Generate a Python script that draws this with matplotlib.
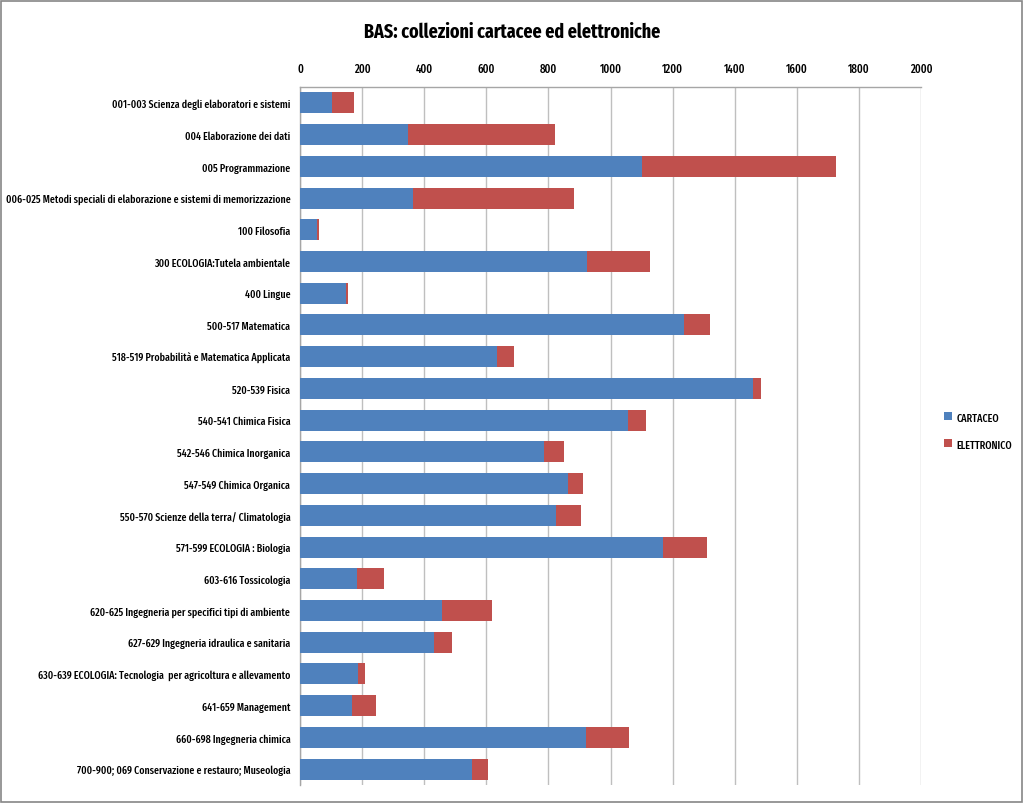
import matplotlib

matplotlib.use("Agg")

import matplotlib.pyplot as plt
import numpy as np
from matplotlib import font_manager
from matplotlib.patches import Rectangle

# the reference uses a squeezed Calibri; take the closest condensed family installed
names = {f.name for f in font_manager.fontManager.ttflist}
candidates = ["Fira Sans Extra Condensed", "Barlow Condensed", "Roboto Condensed", "PT Sans Narrow",
              "Open Sans Condensed", "Archivo Narrow", "Liberation Sans Narrow", "Carlito", "Open Sans"]
FAMILY = next((c for c in candidates if c in names), "DejaVu Sans")
plt.rcParams["font.family"] = [FAMILY, "DejaVu Sans"]
plt.rcParams["font.weight"] = "medium"

categories = [
    "001-003 Scienza degli elaboratori e sistemi",
    "004 Elaborazione dei dati",
    "005 Programmazione",
    "006-025 Metodi speciali di elaborazione e sistemi di memorizzazione",
    "100 Filosofia",
    "300 ECOLOGIA:Tutela ambientale",
    "400 Lingue",
    "500-517 Matematica",
    "518-519 Probabilità e Matematica Applicata",
    "520-539 Fisica",
    "540-541 Chimica Fisica",
    "542-546 Chimica Inorganica",
    "547-549 Chimica Organica",
    "550-570 Scienze della terra/ Climatologia",
    "571-599 ECOLOGIA : Biologia",
    "603-616 Tossicologia",
    "620-625 Ingegneria per specifici tipi di ambiente",
    "627-629 Ingegneria idraulica e sanitaria",
    "630-639 ECOLOGIA: Tecnologia  per agricoltura e allevamento",
    "641-659 Management",
    "660-698 Ingegneria chimica",
    "700-900; 069 Conservazione e restauro; Museologia",
]
cartaceo = [103, 348, 1102, 365, 54, 924, 149, 1238, 634, 1458, 1055, 786,
            863, 825, 1168, 183, 458, 431, 187, 167, 922, 553]
elettronico = [71, 472, 623, 516, 6, 203, 4, 81, 54, 26, 59, 63,
               47, 79, 143, 88, 159, 57, 21, 79, 136, 51]
x_ticks = [0, 200, 400, 600, 800, 1000, 1200, 1400, 1600, 1800, 2000]

BLUE = "#4F81BD"
RED = "#C0504D"
GRID = "#BFBFBF"

fig = plt.figure(figsize=(10.24, 8.04), dpi=100)
ax = fig.add_axes([300 / 1024, 1 - 786 / 804, 621 / 1024, 698 / 804])

y = np.arange(len(categories))
ax.barh(y, cartaceo, height=0.66, color=BLUE, label="CARTACEO", zorder=3)
ax.barh(y, elettronico, left=cartaceo, height=0.66, color=RED, label="ELETTRONICO", zorder=3)

ax.set_xlim(0, 2000)
ax.set_ylim(len(categories) - 0.5, -0.5)
ax.set_xticks(x_ticks)
ax.xaxis.tick_top()
ax.tick_params(axis="x", length=0, pad=9, labelsize=9)
ax.set_yticks(y, labels=categories)
ax.tick_params(axis="y", length=0, pad=7, labelsize=9)
ax.grid(axis="x", color=GRID, lw=1.0, zorder=0)

for side in ["right", "bottom"]:
    ax.spines[side].set_visible(False)
for side in ["top", "left"]:
    ax.spines[side].set_color("#A6A6A6")
    ax.spines[side].set_linewidth(1.0)

title = fig.text(0.5, 1 - 32 / 804, "BAS: collezioni cartacee ed elettroniche",
                 ha="center", va="center", fontsize=16, fontweight="bold")

leg = fig.legend(loc="center left", bbox_to_anchor=(933 / 1024, 1 - 432 / 804), frameon=False,
                 fontsize=9, handlelength=0.6, handleheight=0.6, handletextpad=0.4, labelspacing=1.3)

# size the texts so their widths match the reference picture
fig.canvas.draw()
r = fig.canvas.get_renderer()


def scale_for(text, target_px):
    return text.get_fontsize() * target_px / text.get_window_extent(r).width


ylab = ax.get_yticklabels()[3]
ax.tick_params(axis="y", labelsize=scale_for(ylab, 284))
xlab = ax.get_xticklabels()[5]
ax.tick_params(axis="x", labelsize=scale_for(xlab, 22))
title.set_fontsize(scale_for(title, 298))
leg_size = scale_for(leg.get_texts()[1], 56)
for t in leg.get_texts():
    t.set_fontsize(leg_size)

fig.patches.append(Rectangle((0.001, 0.001), 0.997, 0.997, transform=fig.transFigure,
                             fill=False, edgecolor="#868686", lw=1.2))

fig.savefig("out.png", dpi=100)
